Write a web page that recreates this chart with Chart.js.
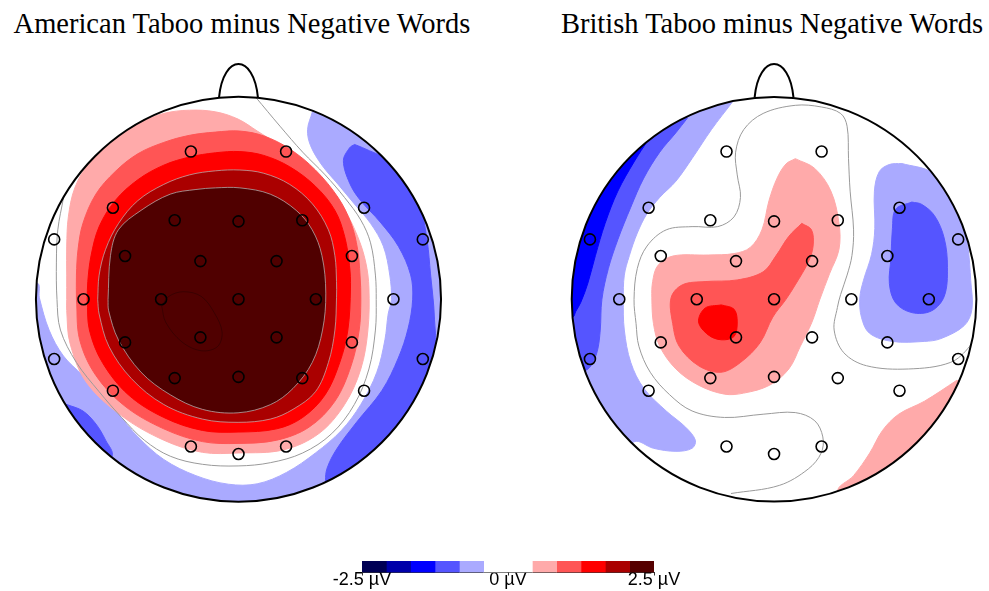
<!DOCTYPE html>
<html><head><meta charset="utf-8">
<script src="https://cdn.jsdelivr.net/npm/chart.js@4.4.1/dist/chart.umd.min.js"></script>
<style>
html,body{margin:0;padding:0;background:#fff;width:989px;height:591px;overflow:hidden;}
.title{position:absolute;top:10px;font-family:'Liberation Serif','Times New Roman',serif;font-size:28.5px;line-height:28px;color:#000;text-align:center;white-space:nowrap;}
canvas{position:absolute;}
</style></head><body>
<div id="t0" class="title" style="left:0;width:484px"></div>
<div id="t1" class="title" style="left:555px;width:434px"></div>
<canvas id="am" width="460" height="480" style="left:8px;top:50px"></canvas>
<canvas id="br" width="445" height="480" style="left:544px;top:50px"></canvas>
<canvas id="cb" width="420" height="38" style="left:300px;top:553px"></canvas>
<script>
// ---------- DATA (head coordinates: head radius = 100) ----------
const titles = ['American Taboo minus Negative Words', 'British Taboo minus Negative Words'];

const electrodeX = [-23.5,23.5,-62,-31.5,0,31.5,62,-91,91,-56,-18.8,18.8,56,-76.5,-38.2,0,38.2,76.5,-56,-18.8,18.8,56,-91,91,-62,-31.5,0,31.5,62,-23.5,0,23.5];
const electrodeY = [72.8,72.8,45.1,38.9,38.4,38.9,45.1,29.5,29.5,21.3,18.8,18.8,21.3,0,0,0,0,0,-21.3,-18.8,-18.8,-21.3,-29.5,-29.5,-45.1,-38.9,-38.3,-38.9,-45.1,-72.6,-76.3,-72.6];

const colorbarLevels = [-2.5,-2.0833,-1.6667,-1.25,-0.8333,-0.4167,0,0.4167,0.8333,1.25,1.6667,2.0833,2.5];
const colorbarColors = ['#000055','#0000aa','#0000ff','#5555ff','#aaaaff','#ffffff','#ffffff','#ffaaaa','#ff5555','#ff0000','#aa0000','#550000'];
const colorbarTicks = [-2.5, 0, 2.5];

// American Taboo minus Negative: contour outlines
const amLightBlue = [[36.5,92.4],[34.1,83.6],[35.6,75.7],[41.2,66.1],[49.2,56.6],[57.2,47.0],[65.2,37.4],[71.5,26.2],[74.7,11.9],[75.5,-0.2],[73.9,-7.3],[72.3,-20.0],[68.3,-36.0],[60.4,-51.9],[50.8,-64.7],[38.0,-75.8],[23.7,-85.4],[9.3,-91.0],[-5.0,-91.2],[-21.0,-87.0],[-36.9,-79.0],[-49.7,-67.8],[-59.2,-56.7],[-67.2,-47.1],[-76.8,-37.6],[-86.4,-28.0],[-93.5,-15.2],[-98.3,0.7],[-99.5,8],[-130,8],[-130,-130],[130,-130],[130,130],[40,130],[36.5,92.4]];
const amBlueRight = [[57.3,76.3],[61.3,74.7],[74.1,68.3],[83.7,57.2],[90.0,44.4],[93.2,28.5],[94.8,12.5],[96.4,-3.4],[97.2,-16.2],[98.5,-22.6],[125,-30],[110,-110],[45,-120],[43.0,-89.6],[43.8,-83.2],[48.6,-73.7],[58.1,-60.9],[70.9,-44.9],[78.9,-29.0],[83.7,-14.6],[86,0],[85,12],[79,26],[70,38],[60,49],[54.9,57.2],[51.8,68.3],[54.9,74.7],[57.3,76.3]];
const amBlueLowerLeft = [[-84.8,-51.9],[-76.8,-55.1],[-70.4,-61.5],[-65.6,-69.5],[-62.4,-77.4],[-75,-97],[-112,-60],[-84.8,-51.9]];
const amPink = [[-84.8,-0.2],[-84.8,11.9],[-84.8,26.2],[-84.0,40.6],[-80.8,54.9],[-73.6,67.7],[-62.4,78.9],[-49.7,86.8],[-36.9,91.6],[-24.2,93.2],[-11.4,92.4],[-0.2,88.8],[9.3,82.9],[20.5,75.7],[31.7,66.9],[42.8,55.7],[52.4,43.8],[58.8,31.0],[62.8,18.3],[64.4,5.5],[63.9,-15.2],[60.4,-34.4],[52.4,-51.9],[39.6,-66.3],[22.1,-74.3],[-0.2,-75.8],[-17.8,-75.5],[-36.9,-69.5],[-57.7,-57.5],[-75.2,-40.8],[-83.2,-21.6],[-84.8,-5.6],[-84.8,-0.2]];
const amMedRed = [[-80.0,-0.2],[-80.0,11.9],[-79.2,24.6],[-76.8,37.4],[-70.4,51.8],[-60.9,62.9],[-49.7,71.7],[-36.9,77.3],[-24.2,80.8],[-11.4,82.4],[0.7,82.9],[12.5,80.5],[25.3,74.1],[38.0,63.7],[49.2,50.1],[55.6,37.4],[58.8,24.6],[60.0,11.9],[60.4,-0.2],[59.6,-15.2],[55.6,-32.8],[47.6,-50.3],[34.8,-63.1],[18.9,-69.5],[-0.2,-71.1],[-17.8,-70.2],[-36.9,-63.9],[-56.1,-52.7],[-70.4,-37.6],[-78.4,-20.0],[-80.0,-0.2]];
const amRed = [[-74.7,-0.2],[-74.4,8.7],[-72.8,21.4],[-68.8,35.8],[-60.9,48.6],[-49.7,58.9],[-36.9,66.1],[-24.2,70.1],[-11.4,72.2],[0.7,72.8],[12.5,70.9],[25.3,65.3],[38.0,55.7],[47.6,43.8],[52.4,31.0],[54.8,16.7],[55.3,5.5],[54.0,-15.2],[50.0,-31.2],[42.8,-47.1],[31.7,-58.3],[18.9,-63.9],[-0.2,-65.5],[-17.8,-64.7],[-36.9,-58.3],[-54.4,-47.1],[-67.2,-31.2],[-73.6,-15.2],[-74.7,-0.2]];
const amDarkRed = [[-69.5,-0.2],[-68.8,11.9],[-65.6,24.6],[-59.2,37.4],[-49.7,48.6],[-36.9,56.6],[-24.2,61.3],[-11.4,63.3],[0.7,63.7],[12.5,62.1],[25.3,56.6],[36.5,47.0],[44.4,34.2],[47.6,21.4],[48.4,8.7],[48.4,0.7],[47.6,-15.2],[44.4,-31.2],[38.0,-45.6],[26.9,-54.3],[15.7,-59.1],[-0.2,-60.7],[-17.8,-59.1],[-36.9,-51.9],[-52.9,-39.1],[-64.0,-23.2],[-68.8,-7.3],[-69.5,-0.2]];
const amDarkest = [[-64.4,-0.2],[-63.2,21.5],[-59.3,34.2],[-48.1,43.8],[-33.7,51.8],[-21.0,54.1],[-11.4,54.9],[0.7,54.9],[15.7,51.8],[28.5,43.8],[36.4,34.2],[41.2,21.5],[43.1,3],[41.5,-15.2],[36.4,-31.2],[26.9,-44.0],[15.7,-52.0],[-0.2,-56.0],[-17.8,-54.3],[-33.7,-47.1],[-48.1,-36.0],[-59.3,-20.0],[-64.1,-5.7],[-64.4,-0.2]];
const amInnerLine = [[-37.9,-3.4],[-34.4,1.4],[-27.2,3.7],[-18.4,1.4],[-12.0,-6.6],[-8.1,-16.2],[-10.4,-23.4],[-18.4,-25.4],[-28.0,-21.0],[-35.9,-11.4],[-37.9,-3.4]];
const amZeroLine = [[8.5,99.6],[20.5,85.3],[31.7,72.5],[42.8,61.3],[52.4,50.1],[60.4,39.0],[65.2,27.8],[67.6,11.9],[68.0,-0.2],[67.6,-15.2],[64.4,-34.4],[57.2,-51.9],[46.0,-66.3],[31.7,-75.8],[15.7,-80.6],[-0.2,-82.2],[-17.8,-81.4],[-33.7,-77.4],[-46.5,-69.5],[-57.7,-58.3],[-68.8,-45.6],[-80.0,-31.2],[-87.9,-15.2],[-89.6,-0.2],[-89.9,18.3],[-89.2,34.2],[-86.4,50.0]];

// British Taboo minus Negative: contour outlines
const brLightBlueLeft = [[-20.6,97.2],[-30.9,83.7],[-40.5,69.4],[-48.5,58.2],[-56.5,50.2],[-62.8,42.2],[-67.6,32.6],[-71.5,21.5],[-74,11.9],[-74.5,-0.2],[-74.0,-15.2],[-70.8,-31.2],[-64.4,-43.9],[-53.3,-55.1],[-43.7,-63.1],[-38.9,-69.5],[-40.5,-73.5],[-48.5,-75.0],[-59.6,-73.5],[-69.2,-70.3],[-85,-85],[-130,-40],[-130,60],[-70,110],[-25,115],[-20.6,97.2]];
const brBlueLeft = [[-42.9,89.2],[-48.5,82.1],[-56.5,72.5],[-64.4,59.7],[-70.8,45.4],[-77.2,29.4],[-81.9,15.1],[-85.1,-0.2],[-85.9,-15.2],[-87.4,-25.8],[-90.6,-32.9],[-93.5,-35.3],[-120,-45],[-130,60],[-55,115],[-42.9,89.2]];
const brPureBlueLeft = [[-62.0,78.9],[-69.2,67.7],[-77.2,53.3],[-83.5,37.4],[-88.3,21.5],[-92.0,8],[-95.5,-1.5],[-98,-6],[-99.6,-8.8],[-125,-10],[-125,60],[-75,100],[-62.0,78.9]];
const brLightBlueRight = [[63.2,66.9],[77.5,62.9],[87.1,53.3],[93.5,40.6],[96.0,24.6],[97.2,9.3],[97.8,-5],[94,-13],[82.5,-19.4],[74.3,-20.8],[58.4,-20.8],[47.2,-16.8],[43.2,-8.9],[42.4,0.7],[44.2,9.3],[48.2,22.1],[49.8,34.8],[49.6,53.3],[52.0,62.9],[56.9,66.4],[63.2,66.9]];
const brBlueRight = [[68.1,47.9],[60.1,44.4],[58.5,34.8],[57.8,20.5],[57.0,7.7],[60.1,-1.8],[68.1,-6.6],[77.7,-5.8],[84.1,1.4],[85.7,15.7],[84.1,30.1],[79.3,41.2],[72.9,46.8],[68.1,47.9]];
const brPink = [[10.5,69.3],[20.1,64.5],[28.1,53.3],[32.1,37.4],[32.1,24.6],[27.4,12.5],[22.6,-0.2],[18.7,-11.4],[13.0,-23.2],[7.3,-34.4],[-2.2,-42.4],[-15.0,-46.3],[-24.5,-46.8],[-37.3,-42.4],[-48.5,-34.4],[-56.5,-23.2],[-59.6,-12.0],[-60.4,0.7],[-60.0,8.7],[-57.5,16.5],[-50,21.3],[-32.5,21.8],[-19.8,22.5],[-11.8,25.5],[-6.0,34.2],[-2.5,48.6],[1.5,59.7],[5.9,66.7],[10.5,69.3]];
const brMedRed = [[13.7,37.4],[18.5,34.2],[19.3,26.2],[16.9,18.3],[10.5,7.1],[5.8,-0.2],[-0.6,-8.8],[-7.0,-21.6],[-16.6,-31.2],[-26.2,-36.0],[-37.3,-32.8],[-46.9,-23.2],[-50.1,-12.0],[-50.9,0.7],[-45.3,7.1],[-34.1,8.7],[-18.2,9.5],[-5.4,13.5],[1.0,21.5],[7.3,31.0],[13.7,37.4]];
const brRed = [[-26.1,-2.8],[-19.8,-4.9],[-18.2,-11.2],[-19.8,-18.4],[-26.1,-20.0],[-32.5,-17.6],[-37.3,-11.2],[-34.1,-4.4],[-26.1,-2.8]];
const brPinkLowerRight = [[90.3,-40.0],[74.3,-50.3],[61.6,-56.7],[53.6,-64.7],[47.3,-75.8],[39.3,-87.0],[31.3,-95.0],[40,-125],[130,-70],[112,-48],[90.3,-40.0]];
const brZeroLine = [[99.1,-16.8],[96.7,-23.2],[87.1,-31.2],[66.4,-34.4],[45.7,-32.8],[34.5,-26.4],[29.7,-15.2],[31.3,-4.1],[32.9,2.3],[36.1,11.9],[38.5,21.5],[39.3,34.2],[37.6,53.3],[36.8,69.3],[36.1,85.3],[32.9,91.6],[23.3,94.8],[10.5,95.6],[-5.4,91.6],[-15.0,83.6],[-19.0,72.5],[-18.2,61.3],[-16.6,50.2],[-19.8,40.6],[-27.8,35.8],[-40.5,35.8],[-53.3,34.2],[-62.8,26.2],[-67.6,15.1],[-69.2,-0.2],[-68.2,-12],[-66.8,-23.2],[-61.2,-36.0],[-51.6,-47.1],[-40.5,-55.1],[-24.5,-58.3],[-5.4,-56.7],[10.5,-55.9],[20.1,-59.9],[24.1,-67.9],[23.3,-75.8],[16.9,-83.7],[2.6,-91.8],[-21.3,-95.8]];

// ---------- BUILD ----------
document.getElementById('t0').textContent = titles[0];
document.getElementById('t1').textContent = titles[1];

const HEAD_R = 100;
const PX_PER_UNIT = 2.09;

function toXY(pts){ return pts.map(p => ({x:p[0], y:p[1]})); }
function region(pts, color, line){
  return {data: toXY(pts), showLine:true, fill:'shape', backgroundColor:color,
    borderColor: line ? line.color : color, borderWidth: line ? line.width : 1,
    pointRadius:0, pointHoverRadius:0, pointHitRadius:0, tension:0.35};
}
function contour(pts, color, width){
  return {data: toXY(pts), showLine:true, fill:false, backgroundColor:'rgba(0,0,0,0)',
    borderColor:color, borderWidth:width, pointRadius:0, pointHoverRadius:0, pointHitRadius:0, tension:0.35};
}
function electrodes(){
  return {data: electrodeX.map((x,i)=>({x, y:electrodeY[i]})), showLine:false,
    pointRadius:5.5, pointHoverRadius:5.5, borderWidth:1.6, borderColor:'#000',
    backgroundColor:'rgba(0,0,0,0)', pointStyle:'circle'};
}

const headPlugin = {
  id:'head',
  beforeDatasetsDraw(chart){
    const {ctx, scales:{x, y}} = chart;
    const cx = x.getPixelForValue(0), cy = y.getPixelForValue(0);
    const r = x.getPixelForValue(HEAD_R) - cx;
    ctx.save(); ctx.beginPath(); ctx.arc(cx, cy, r, 0, Math.PI*2); ctx.clip();
  },
  afterDatasetsDraw(chart){
    const {ctx, scales:{x, y}} = chart;
    ctx.restore();
    const P = (a,b) => [x.getPixelForValue(a), y.getPixelForValue(b)];
    const c = P(0,0); const r = x.getPixelForValue(HEAD_R) - c[0];
    ctx.save();
    ctx.strokeStyle = '#000'; ctx.lineWidth = 2;
    ctx.beginPath(); ctx.arc(c[0], c[1], r, 0, Math.PI*2); ctx.stroke();
    const a = P(-9.6, 99.5), c1 = P(-7.5, 121.4), c2 = P(7.5, 121.4), b = P(9.6, 99.5);
    ctx.beginPath(); ctx.moveTo(a[0], a[1]); ctx.bezierCurveTo(c1[0], c1[1], c2[0], c2[1], b[0], b[1]); ctx.stroke();
    ctx.restore();
  }
};

function headChart(id, datasets, cxPx, cyPx, w, h){
  datasets.forEach((d,i) => { d.order = datasets.length - i; });
  return new Chart(document.getElementById(id), {
    type:'scatter',
    data:{datasets},
    options:{
      responsive:false, animation:false, events:[],
      layout:{padding:0},
      plugins:{legend:{display:false}, tooltip:{enabled:false}},
      scales:{
        x:{type:'linear', display:false, min:-cxPx/PX_PER_UNIT, max:(w-cxPx)/PX_PER_UNIT},
        y:{type:'linear', display:false, min:-(h-cyPx)/PX_PER_UNIT, max:cyPx/PX_PER_UNIT}
      }
    },
    plugins:[headPlugin]
  });
}

const thinGray = {color:'rgba(185,185,185,0.9)', width:0.8};
headChart('am', [
  region(amLightBlue, '#aaaaff'),
  region(amBlueRight, '#5555ff'),
  region(amBlueLowerLeft, '#5555ff'),
  region(amPink, '#ffaaaa'),
  region(amMedRed, '#ff5555'),
  region(amRed, '#ff0000'),
  region(amDarkRed, '#aa0000', thinGray),
  region(amDarkest, '#500000', thinGray),
  contour(amInnerLine, 'rgba(0,0,0,0.35)', 0.8),
  contour(amZeroLine, '#9a9a9a', 1),
  electrodes()
], 230.5, 249.5, 460, 480);

headChart('br', [
  region(brLightBlueLeft, '#aaaaff'),
  region(brBlueLeft, '#5555ff'),
  region(brPureBlueLeft, '#0000ff'),
  region(brLightBlueRight, '#aaaaff'),
  region(brBlueRight, '#5555ff'),
  region(brPink, '#ffaaaa'),
  region(brMedRed, '#ff5555'),
  region(brRed, '#ff0000'),
  region(brPinkLowerRight, '#ffaaaa'),
  contour(brZeroLine, '#9a9a9a', 1),
  electrodes()
], 230.3, 249.5, 445, 480);

// colour bar
const tickMarks = {
  id:'tickMarks',
  afterDraw(chart){
    const {ctx, chartArea, scales:{x}} = chart;
    ctx.save(); ctx.strokeStyle = '#333'; ctx.lineWidth = 1;
    colorbarTicks.forEach(v => {
      const px = Math.round(x.getPixelForValue(v)) + 0.5;
      ctx.beginPath(); ctx.moveTo(px, chartArea.bottom); ctx.lineTo(px, chartArea.bottom + 3); ctx.stroke();
    });
    ctx.restore();
  }
};
new Chart(document.getElementById('cb'), {
  type:'bar',
  data:{
    labels:['µV'],
    datasets: colorbarColors.map((c,i) => ({
      data:[[colorbarLevels[i], colorbarLevels[i+1]]], backgroundColor:c, borderWidth:0,
      grouped:false, barPercentage:1, categoryPercentage:1
    }))
  },
  options:{
    indexAxis:'y', responsive:false, animation:false, events:[],
    layout:{padding:{left:62, right:66, top:8, bottom:7}},
    plugins:{legend:{display:false}, tooltip:{enabled:false}},
    scales:{
      x:{type:'linear', min:-2.5, max:2.5,
        afterBuildTicks: s => { s.ticks = colorbarTicks.map(v => ({value:v})); },
        afterUpdate: s => { s._computeLabelArea = () => undefined; },
        ticks:{callback: v => v + ' µV', font:{family:'Liberation Sans', size:18, lineHeight:1.2}, color:'#000', padding:-3, maxRotation:0, autoSkip:false},
        grid:{drawOnChartArea:false, drawTicks:false, color:'#333'},
        border:{display:true, color:'#333'}},
      y:{display:false}
    }
  },
  plugins:[tickMarks]
});
</script>
</body></html>
